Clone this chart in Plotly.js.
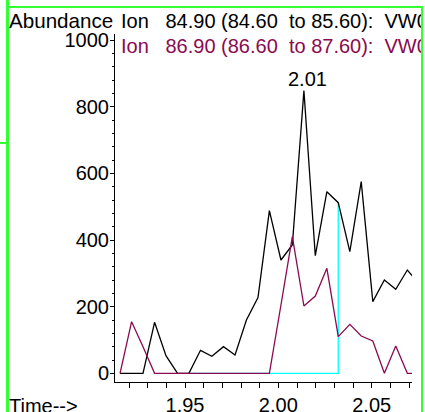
<!DOCTYPE html>
<html><head><meta charset="utf-8">
<script src="https://cdn.plot.ly/plotly-3.0.1.min.js"></script>
<style>
html,body{margin:0;padding:0;background:#fff;overflow:hidden;}
#wrap{position:relative;width:425px;height:412px;}
#chart{position:absolute;left:0;top:0;width:421px;height:412px;}
.g{position:absolute;background:#33ff33;}
</style></head><body>
<div id="wrap">
<div id="chart"></div>
<div class="g" style="left:6px;top:0;width:3px;height:412px"></div>
<div class="g" style="left:8px;top:6px;width:414px;height:2px"></div>
<div class="g" style="left:421px;top:6px;width:2px;height:406px"></div>
<div class="g" style="left:0;top:142px;width:7px;height:2px"></div>
</div>
<script>
// ---- data ----
const times = [1.9152,1.9214,1.9275,1.9337,1.9398,1.9460,1.9521,1.9583,1.9644,1.9706,
               1.9768,1.9829,1.9891,1.9952,2.0014,2.0075,2.0137,2.0198,2.0260,2.0321,
               2.0383,2.0444,2.0506,2.0568,2.0629,2.0691,2.0752];
const ion849 = [0,0,0,153,53,0,0,69,51,80,
                55,160,227,488,340,385,848,353,545,512,
                365,575,215,280,252,310,269];
const ion869 = [0,155,80,0,0,0,0,0,0,0,
                0,0,0,0,205,410,202,232,315,110,
                147,112,97,0,82,0,0];
const NB = "\u00a0";
const seriesNames = ["Ion"+NB+NB+NB+"84.90 (84.60"+NB+" to 85.60):"+NB+" VW01.D",
                     "Ion"+NB+NB+NB+"86.90 (86.60"+NB+" to 87.60):"+NB+" VW01.D"];
const seriesColors = ["#000000", "#8b0a50"];
const yTickVals = [0,200,400,600,800,1000];
const xTickVals = [1.95,2.00,2.05];
const baselineStartTime = 1.9521;
const baselineEndIndex = 19;
const yAxisLabel = "Abundance";
const xAxisLabel = "Time-->";

// ---- layout helpers ----
const W = 421, H = 412;
const M = {l:115, r:9, t:34, b:30};
const PW = W - M.l - M.r, PH = H - M.t - M.b;
const px = x => (x - M.l) / PW;
const py = y => (H - M.b - y) / PH;
const FONT = "Liberation Sans, Arial, sans-serif";

// peak
let pk = 0;
ion849.forEach((v,i)=>{ if (v > ion849[pk]) pk = i; });

const traces = [
  {x:[baselineStartTime, times[baselineEndIndex], times[baselineEndIndex]],
   y:[0, 0, ion849[baselineEndIndex]], mode:'lines',
   line:{color:'#00ffff', width:1.3}, hoverinfo:'skip'},
  {x:times, y:ion849, mode:'lines', name:seriesNames[0],
   line:{color:seriesColors[0], width:1.3}},
  {x:times, y:ion869, mode:'lines', name:seriesNames[1],
   line:{color:seriesColors[1], width:1.3}}
];

const ann = [
  {text:yAxisLabel, xref:'paper', yref:'paper', x:px(7), y:py(20.5),
   xanchor:'left', yanchor:'middle', showarrow:false, font:{size:20.6, color:'#000', family:FONT}},
  {text:seriesNames[0], xref:'paper', yref:'paper', x:px(118.5), y:py(20.5),
   xanchor:'left', yanchor:'middle', showarrow:false, font:{size:20, color:seriesColors[0], family:FONT}},
  {text:seriesNames[1], xref:'paper', yref:'paper', x:px(118.5), y:py(45.5),
   xanchor:'left', yanchor:'middle', showarrow:false, font:{size:20, color:seriesColors[1], family:FONT}},
  {text:xAxisLabel, xref:'paper', yref:'paper', x:px(7), y:py(405.5),
   xanchor:'left', yanchor:'middle', showarrow:false, font:{size:20, color:'#000', family:FONT}},
  {text:times[pk].toFixed(2), xref:'x', yref:'y', x:times[pk], y:ion849[pk],
   xanchor:'center', yanchor:'bottom', xshift:4, yshift:-1, showarrow:false,
   font:{size:20, color:'#000', family:FONT}}
];

const layout = {
  width:W, height:H, margin:M, showlegend:false,
  paper_bgcolor:'#fff', plot_bgcolor:'#fff',
  font:{family:FONT, size:20, color:'#000'},
  xaxis:{range:[1.9125, 2.0716], tickmode:'array', tickvals:xTickVals,
         ticktext:xTickVals.map(v=>v.toFixed(2)),
         ticks:'outside', ticklen:5, tickwidth:1, tickcolor:'#000',
         showline:true, linecolor:'#000', linewidth:1, showgrid:false, zeroline:false,
         tickfont:{size:20, family:FONT},
         minor:{ticks:'outside', ticklen:5, tickwidth:1, tickcolor:'#000', dtick:0.01, tick0:1.95, showgrid:false}},
  yaxis:{range:[-26, 1018], tickmode:'array', tickvals:yTickVals,
         ticks:'outside', ticklen:4, tickwidth:1, tickcolor:'#000', ticklabelstandoff:-3,
         showline:true, linecolor:'#000', linewidth:1, showgrid:false, zeroline:false,
         tickfont:{size:20, family:FONT},
         minor:{ticks:'outside', ticklen:2, tickwidth:1, tickcolor:'#000', dtick:40, tick0:0, showgrid:false}},
  annotations:ann
};
Plotly.newPlot('chart', traces, layout, {staticPlot:true, displayModeBar:false});
</script>
</body></html>
